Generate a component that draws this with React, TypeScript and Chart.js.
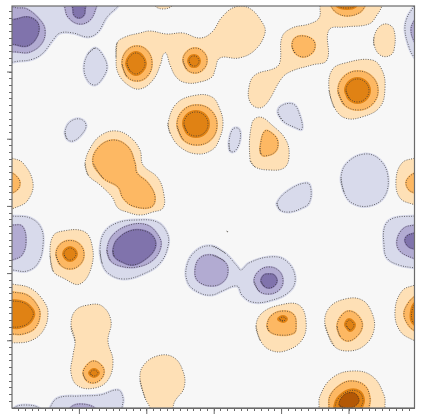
import React, { useEffect, useRef } from "react";
import { Chart, registerables } from "chart.js";

Chart.register(...registerables);

type P = [number, number];

const xMajorTicks = [67.4, 134.8, 202.2, 269.6, 337];
const yMajorTicks = [66, 133.2, 200.4, 267.6, 334.8];
const xMinorTicks = Array.from({ length: 59 }, (_, i) => (i + 1) * 6.74);
const yMinorTicks = Array.from({ length: 59 }, (_, i) => 402 - (i + 1) * 6.72);

const orange1: P[][] = [
  [[105,37],[113,31],[128,27],[138,25],[155,28],[171,27],[188,32],[200,26],[210,11],[223,1],[237,2],[250,16],[253,27],[243,44],[227,52],[208,52],[203,64],[200,71],[188,76],[175,77],[165,72],[158,59],[154,47],[151,49],[149,57],[141,74],[128,83],[116,79],[106,67],[104,51]],
  [[142,-6],[143,0],[151,3],[160,0],[161,-6]],
  [[73,157],[80,139],[91,128],[105,125],[118,131],[128,144],[131,159],[146,172],[152,189],[151,202],[141,206],[128,209],[115,206],[106,202],[100,191],[88,179],[76,169]],
  [[-6,150],[0,152],[11,157],[21,177],[16,194],[5,201],[-6,202]],
  [[156,117],[165,97],[185,89],[200,91],[207,101],[211,117],[207,134],[200,144],[185,148],[168,141],[158,127]],
  [[308,-6],[308,0],[307,12],[297,18],[280,22],[270,31],[268,56],[263,62],[243,69],[237,81],[238,96],[247,102],[255,97],[270,72],[280,65],[300,59],[315,54],[317,24],[333,21],[357,18],[365,9],[370,0],[371,-6]],
  [[362,31],[367,21],[375,18],[382,24],[382,44],[377,50],[368,49],[362,39]],
  [[317,84],[320,64],[333,57],[360,54],[370,64],[373,82],[368,101],[350,111],[333,112],[322,101]],
  [[238,154],[240,117],[248,111],[260,119],[274,134],[277,151],[272,162],[257,164],[243,161]],
  [[408,151],[403,152],[390,157],[384,174],[388,192],[403,199],[408,200]],
  [[38,249],[41,230],[51,225],[71,225],[79,235],[80,259],[68,278],[51,272],[41,265]],
  [[-6,277],[0,278],[18,282],[31,294],[36,307],[31,325],[18,335],[0,337],[-6,337]],
  [[59,320],[63,305],[76,299],[90,300],[99,315],[96,335],[101,355],[96,374],[83,382],[66,380],[59,367],[61,349],[63,335]],
  [[128,374],[131,360],[145,350],[161,351],[171,365],[172,382],[163,395],[161,402],[161,409],[138,409],[138,402],[133,392]],
  [[244,320],[250,307],[268,299],[287,299],[294,315],[290,334],[273,345],[258,344],[248,334]],
  [[313,319],[317,302],[333,293],[350,294],[360,307],[362,324],[353,339],[337,345],[322,340]],
  [[307,409],[307,402],[308,390],[320,372],[340,365],[360,370],[372,389],[373,402],[373,409]],
  [[408,278],[403,279],[390,285],[383,305],[388,325],[403,335],[408,336]],
  [[214.5,225],[215.5,225],[215.5,225.8]],
];

const orange2: P[][] = [
  [[110,57.5],[114.5,45],[125,40],[135.5,45],[140,57.5],[135.5,70],[125,75],[114.5,70]],
  [[171,54.5],[174.5,46],[183,42],[191.5,46],[195,54.5],[191.5,63],[183,67],[174.5,63]],
  [[81,157],[86,142],[101,134],[116,141],[123,157],[125,167],[136,177],[143,191],[139,201],[121,200],[111,192],[106,181],[91,172]],
  [[-6,166],[0,167],[6,172],[8,177],[6,183],[0,187],[-6,188]],
  [[165,119],[171,104.5],[185,99],[199,104.5],[205,119],[199,133.5],[185,139],[171,133.5]],
  [[280,40],[283,32],[292,30],[301,34],[303,41],[299,48],[291,51],[283,47]],
  [[318,-6],[319,0],[325,7],[335,10],[347,7],[353,0],[354,-6]],
  [[326,84.5],[332,70.5],[346,65],[360,70.5],[366,84.5],[360,98.5],[346,104],[332,98.5]],
  [[248,142],[253,125],[262,129],[266,137],[263,146],[253,150],[249,148]],
  [[408,166],[403,167],[397,171],[394,177],[397,184],[403,187],[408,188]],
  [[44,248.5],[48,238.5],[58,234.5],[68,238.5],[72,248.5],[68,258.5],[58,263],[48,258.5]],
  [[-6,285],[0,286],[15,289],[25,299],[28,309],[23,322],[11,328],[0,328],[-6,328]],
  [[71,367],[75,359],[82,355],[90,360],[92,367],[88,374],[81,377],[74,374]],
  [[255,319],[260,309],[272,305],[282,309],[284,320],[282,327],[267,329],[257,325]],
  [[325,320],[330,309],[338,305],[348,312],[350,322],[343,332],[335,335],[328,330]],
  [[317,409],[317,402],[318,390],[328,379],[340,375],[353,380],[358,392],[357,402],[357,409]],
  [[408,289],[403,290],[395,299],[392,309],[397,320],[403,325],[408,327]],
];

const orange3: P[][] = [
  [[115,57.5],[118,50.5],[124,47],[130,50.5],[133,57.5],[130,64.5],[124,68],[118,64.5]],
  [[177,55],[179,51],[182,50],[185,51],[187,55],[185,59],[182,60],[179,59]],
  [[172,118],[175.5,109.5],[184,106],[192.5,109.5],[196,118],[192.5,126.5],[184,130],[175.5,126.5]],
  [[325,-6],[326,0],[335,2],[343,0],[344,-6]],
  [[334,84.5],[337.5,76.5],[345.5,73],[353.5,76.5],[357,84.5],[353.5,92.5],[345.5,96],[337.5,92.5]],
  [[52,248],[54,244],[58,242],[62,244],[64,248],[62,252],[58,254],[54,252]],
  [[-6,295],[0,295],[12,297],[20,304],[21,310],[15,318],[6,321],[0,321],[-6,321]],
  [[78,367],[79.5,365],[82,364],[84.5,365],[86,367],[84.5,369],[82,370],[79.5,369]],
  [[267,313],[271,311],[274,313],[271,315]],
  [[334,319],[337,314],[342,319],[338,324]],
  [[323,409],[323,402],[326,393],[337,385],[347,386],[351,394],[349,402],[349,409]],
  [[408,297],[403,298],[400,305],[400,314],[403,318],[408,319]],
];

const orange4: P[][] = [
  [[327,399],[332,389],[342,387],[347,394],[343,400],[333,402]],
];

const purple1: P[][] = [
  [[-6,54],[8,55],[21,53],[31,47],[41,34],[48,27],[61,27],[76,31],[86,26],[95,11],[106,0],[108,-6],[-6,-6]],
  [[83,42],[90,48],[95,61],[90,73],[83,79],[76,75],[72,62],[76,48]],
  [[53,126],[58,116],[68,113],[74,119],[70,128],[61,135],[55,133]],
  [[405,-6],[402,0],[395,12],[393,24],[397,41],[402,51],[407,54]],
  [[266,107],[269,100],[281,98],[287,107],[290,123],[282,121],[271,115]],
  [[217,136],[221,123],[227,123],[228,134],[223,145],[218,145]],
  [[329,172],[335,157],[353,148],[368,154],[376,171],[372,191],[357,200],[340,197],[332,186]],
  [[265,197],[277,184],[295,177],[299,184],[297,197],[290,202],[278,206],[268,204]],
  [[-6,209],[0,210],[18,212],[29,222],[31,239],[26,257],[15,265],[0,264],[-6,264]],
  [[88,244],[92,227],[105,217],[125,214],[145,216],[155,227],[156,240],[148,257],[131,268],[111,273],[96,267],[90,257]],
  [[200,240],[185,244],[175,259],[176,277],[188,287],[200,289],[210,285],[225,280],[230,289],[240,296],[257,295],[278,285],[283,270],[273,254],[257,251],[237,257],[229,264],[225,260],[213,247]],
  [[408,209],[403,210],[382,212],[373,220],[372,239],[375,252],[387,259],[403,262],[408,263]],
  [[38,409],[38,402],[46,392],[68,390],[88,389],[106,384],[111,392],[110,402],[110,409]],
  [[2,409],[2,402],[13,399],[27,402],[27,409]],
];

const purple2: P[][] = [
  [[-6,2],[6,2],[15,3],[28,14],[33,24],[30,37],[18,46],[5,46],[-6,43]],
  [[52,-6],[53,2],[56,11],[67,18],[78,14],[84,2],[85,-6]],
  [[406,12],[402,15],[399,24],[402,35],[406,38]],
  [[-6,218],[0,219],[10,220],[14,234],[10,249],[0,254],[-6,255]],
  [[95,244],[101,229],[118,219],[135,219],[146,229],[149,240],[141,254],[125,261],[108,260],[98,254]],
  [[200,249],[188,252],[183,264],[186,275],[200,280],[212,275],[216,264],[212,255]],
  [[242,275],[247,265],[257,261],[267,265],[271,275],[267,284],[257,288],[247,285]],
  [[408,218],[403,219],[392,222],[385,234],[388,245],[403,253],[408,254]],
  [[58,409],[58,402],[68,398],[83,402],[83,409]],
];

const purple3: P[][] = [
  [[-6,17],[5,13],[16,11],[25,16],[27,24],[23,34],[15,40],[5,39],[-6,35]],
  [[60,-6],[61,3],[62,9],[67,12],[72,9],[73,3],[74,-6]],
  [[101,244],[105,234],[118,225],[133,225],[142,232],[143,242],[135,252],[121,259],[108,255],[102,250]],
  [[249,275],[252,269],[257,268],[262,269],[265,275],[262,280],[257,282],[252,280]],
  [[408,226],[403,227],[395,230],[393,235],[397,241],[403,243],[408,244]],
];

const levels: { polys: P[][]; color: string; spread: number }[] = [
  { polys: orange1, color: "#fee0b6", spread: 0 },
  { polys: purple1, color: "#d8daeb", spread: 3 },
  { polys: orange2, color: "#fdb863", spread: 2 },
  { polys: purple2, color: "#b2abd2", spread: 2 },
  { polys: orange3, color: "#e08214", spread: 4 },
  { polys: purple3, color: "#8073ac", spread: 2 },
  { polys: orange4, color: "#b35806", spread: 1 },
];

function closed(poly: P[]) {
  const pts = poly.map(([x, y]) => ({ x, y }));
  return [pts[pts.length - 1], ...pts, pts[0]];
}

function buildDatasets() {
  const fills: any[] = [];
  const lines: any[] = [];
  for (const { polys, color, spread } of levels) {
    for (const poly of polys) {
      fills.push({
        data: closed(poly),
        showLine: true,
        fill: "shape",
        backgroundColor: color,
        borderColor: spread ? color : "rgba(0,0,0,0)",
        borderWidth: spread,
        pointRadius: 0,
        tension: 0.4,
        capBezierPoints: false,
      });
      lines.push({
        data: closed(poly),
        showLine: true,
        fill: false,
        borderColor: "rgba(50,50,50,0.8)",
        borderWidth: 0.9,
        borderDash: [1, 1.4],
        pointRadius: 0,
        tension: 0.4,
        capBezierPoints: false,
      });
    }
  }
  const all = [...fills, ...lines];
  return all.map((d, i) => ({ ...d, order: all.length - i }));
}

const frame = {
  id: "frame",
  beforeDatasetsDraw(chart: any) {
    const { ctx, chartArea: a } = chart;
    ctx.save();
    ctx.fillStyle = "#f7f7f7";
    ctx.fillRect(a.left, a.top, a.right - a.left, a.bottom - a.top);
    ctx.restore();
  },
  afterDraw(chart: any) {
    const { ctx, chartArea: a, scales } = chart;
    ctx.save();
    ctx.strokeStyle = "#6a6a6a";
    ctx.lineWidth = 1.2;
    ctx.strokeRect(a.left, a.top, a.right - a.left, a.bottom - a.top);
    ctx.lineWidth = 1;
    ctx.beginPath();
    for (const v of xMajorTicks) {
      const x = scales.x.getPixelForValue(v);
      ctx.moveTo(x, a.bottom);
      ctx.lineTo(x, a.bottom + 6);
    }
    for (const v of yMajorTicks) {
      const y = scales.y.getPixelForValue(v);
      ctx.moveTo(a.left, y);
      ctx.lineTo(a.left - 5, y);
    }
    ctx.stroke();
    ctx.restore();
  },
};

export default function App() {
  const ref = useRef<HTMLCanvasElement>(null);
  useEffect(() => {
    const axis = {
      type: "linear",
      grid: { drawOnChartArea: false, drawTicks: true, tickLength: 3, tickColor: "#6a6a6a", tickWidth: 1 },
      border: { display: true, color: "#6a6a6a", width: 1 },
      ticks: { display: false, autoSkip: false },
    };
    const chart = new Chart(ref.current as HTMLCanvasElement, {
      type: "scatter",
      data: { datasets: buildDatasets() },
      plugins: [frame],
      options: {
        animation: false,
        responsive: false,
        parsing: false,
        normalized: false,
        layout: { padding: { top: 6, right: 8.5, bottom: 0, left: 0 } },
        plugins: { legend: { display: false }, tooltip: { enabled: false }, title: { display: false } },
        scales: {
          x: {
            ...axis,
            min: 0,
            max: 402.5,
            afterBuildTicks: (s: any) => {
              s.ticks = xMinorTicks.map((value) => ({ value }));
            },
            afterFit: (s: any) => {
              s.height = 7;
            },
          },
          y: {
            ...axis,
            reverse: true,
            min: 0,
            max: 402,
            afterBuildTicks: (s: any) => {
              s.ticks = yMinorTicks.map((value) => ({ value }));
            },
            afterFit: (s: any) => {
              s.width = 12;
            },
          },
        },
      } as any,
    });
    return () => chart.destroy();
  }, []);
  return (
    <canvas
      ref={ref}
      width={423}
      height={415}
      style={{ position: "fixed", left: 0, top: 0, display: "block", width: 423, height: 415, background: "#fff", filter: "blur(0.35px)" }}
    />
  );
}
